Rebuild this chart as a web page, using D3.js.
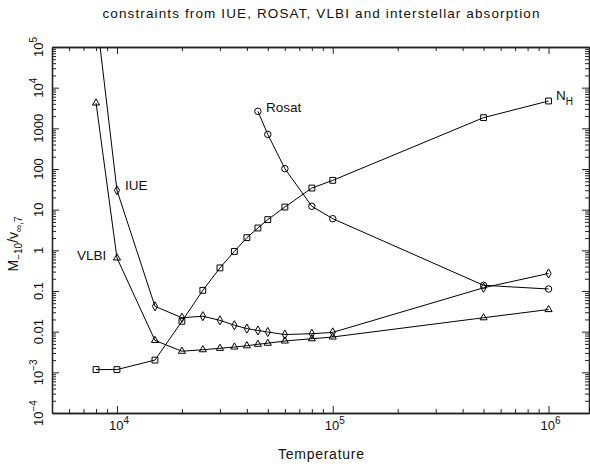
<!DOCTYPE html>
<html>
<head>
<meta charset="utf-8">
<script src="https://cdn.jsdelivr.net/npm/d3@7"></script>
<style>
  body { margin: 0; background: #fff; }
  svg { display: block; }
  text { font-family: "Liberation Sans", Arial, sans-serif; fill: #111; }
</style>
</head>
<body>
<div id="chart"></div>
<script>
// temperatures (K)
var temps = [8000, 10000, 15000, 20000, 25000, 30000, 35000, 40000, 45000, 50000, 60000, 80000, 100000, 500000, 1000000];
// VLBI (triangles)
var vlbi = [4200, 0.65, 0.0061, 0.0033, 0.0036, 0.0039, 0.0042, 0.0045, 0.0049, 0.0052, 0.0059, 0.0067, 0.0074, 0.022, 0.035];
// IUE (diamonds) - first point runs off the top
var iue = [7e5, 30, 0.042, 0.022, 0.024, 0.019, 0.0144, 0.0119, 0.0107, 0.0098, 0.0085, 0.0089, 0.0096, 0.12, 0.27];
// interstellar absorption N_H (squares)
var nh = [0.00117, 0.00117, 0.002, 0.018, 0.104, 0.37, 0.94, 2.05, 3.54, 5.7, 11.6, 34, 52.6, 1830, 4700];
// Rosat (circles), from 45000 K on
var rosatT = [45000, 50000, 60000, 80000, 100000, 500000, 1000000];
var rosat = [2620, 710, 102, 12.1, 6.0, 0.138, 0.112];

var yTickVals = [1e5, 1e4, 1000, 100, 10, 1, 0.1, 0.01, 1e-3, 1e-4];
var yTickLabels = [["10", "5"], ["10", "4"], ["1000"], ["100"], ["10"], ["1"], ["0.1"], ["0.01"], ["10", "\u22123"], ["10", "\u22124"]];
var xTickVals = [1e4, 1e5, 1e6];
var xTickLabels = [["10", "4"], ["10", "5"], ["10", "6"]];

var W = 590, H = 466;
var m = { left: 52, right: 1, top: 47, bottom: 53 };

var svg = d3.select('#chart').append('svg').attr('width', W).attr('height', H);

var x = d3.scaleLog().domain([5000, 1.54e6]).range([m.left, W - m.right]);
var y = d3.scaleLog().domain([1e-4, 1e5]).range([H - m.bottom, m.top]);

// minor tick positions 2..9 per decade
function minors(lo, hi) {
    var out = [];
    for (var e = Math.floor(Math.log10(lo)); e <= Math.ceil(Math.log10(hi)); e++) {
        for (var k = 2; k <= 9; k++) {
            var v = k * Math.pow(10, e);
            if (v > lo && v < hi) out.push(v);
        }
    }
    return out;
}
var xMinor = minors(5000, 1.54e6);
var yMinor = minors(1e-4, 1e5);

var x0 = m.left, x1 = W - m.right, y0 = H - m.bottom, y1 = m.top;

function drawAxis(axis, tr) {
    var g = svg.append('g').attr('transform', tr).call(axis);
    g.select('.domain').attr('stroke', '#222').attr('stroke-width', 1.3);
    g.selectAll('.tick line').attr('stroke', '#222');
    g.selectAll('.tick text').remove();
    return g;
}
// major + minor ticks on all four sides, pointing inward
drawAxis(d3.axisBottom(x).tickValues(xTickVals).tickSizeInner(-7).tickSizeOuter(0).tickFormat(''), 'translate(0,' + y0 + ')');
drawAxis(d3.axisBottom(x).tickValues(xMinor).tickSizeInner(-4).tickSizeOuter(0).tickFormat(''), 'translate(0,' + y0 + ')');
drawAxis(d3.axisTop(x).tickValues(xTickVals).tickSizeInner(-7).tickSizeOuter(0).tickFormat(''), 'translate(0,' + y1 + ')');
drawAxis(d3.axisTop(x).tickValues(xMinor).tickSizeInner(-4).tickSizeOuter(0).tickFormat(''), 'translate(0,' + y1 + ')');
drawAxis(d3.axisLeft(y).tickValues(yTickVals).tickSizeInner(-7).tickSizeOuter(0).tickFormat(''), 'translate(' + x0 + ',0)');
drawAxis(d3.axisLeft(y).tickValues(yMinor).tickSizeInner(-4).tickSizeOuter(0).tickFormat(''), 'translate(' + x0 + ',0)');
drawAxis(d3.axisRight(y).tickValues(yTickVals).tickSizeInner(-7).tickSizeOuter(0).tickFormat(''), 'translate(' + x1 + ',0)');
drawAxis(d3.axisRight(y).tickValues(yMinor).tickSizeInner(-4).tickSizeOuter(0).tickFormat(''), 'translate(' + x1 + ',0)');

// x tick labels
xTickVals.forEach(function(v, i) {
    var t = svg.append('text').attr('x', x(v) + 2).attr('y', 430).attr('text-anchor', 'middle').style('font-size', '13px');
    t.append('tspan').text(xTickLabels[i][0]);
    t.append('tspan').attr('dy', -6).style('font-size', '10px').text(xTickLabels[i][1]);
});
// y tick labels, rotated
yTickVals.forEach(function(v, i) {
    var t = svg.append('text')
        .attr('transform', 'translate(43,' + y(v) + ') rotate(-90)')
        .attr('text-anchor', 'middle').style('font-size', '13px');
    t.append('tspan').text(yTickLabels[i][0]);
    if (yTickLabels[i][1]) t.append('tspan').attr('dy', -6).style('font-size', '10px').text(yTickLabels[i][1]);
});

// titles
svg.append('text').attr('x', 321).attr('y', 18).attr('text-anchor', 'middle').style('font-size', '13.5px')
    .attr('textLength', 437).attr('lengthAdjust', 'spacing')
    .text('constraints from IUE, ROSAT, VLBI and interstellar absorption');
svg.append('text').attr('x', 321).attr('y', 459).attr('text-anchor', 'middle').style('font-size', '14px')
    .attr('textLength', 86).attr('lengthAdjust', 'spacing')
    .text('Temperature');
var yl = svg.append('text').attr('transform', 'translate(18,244) rotate(-90)').attr('text-anchor', 'middle').style('font-size', '14px');
yl.append('tspan').text('M');
yl.append('tspan').attr('dy', 4).style('font-size', '10px').text('\u221210');
yl.append('tspan').attr('dy', -4).text('/v');
yl.append('tspan').attr('dy', 4).style('font-size', '10px').text('\u221e,7');

// plot clip
svg.append('clipPath').attr('id', 'clip').append('rect')
    .attr('x', x0).attr('y', y1).attr('width', x1 - x0).attr('height', y0 - y1);

var line = d3.line().x(function(d) { return x(d[0]); }).y(function(d) { return y(d[1]); });

var series = [
    { name: 'VLBI', t: temps, v: vlbi, sym: d3.symbolTriangle, size: 22 },
    { name: 'IUE', t: temps, v: iue, sym: d3.symbolDiamond, size: 24 },
    { name: 'NH', t: temps, v: nh, sym: d3.symbolSquare, size: 34 },
    { name: 'Rosat', t: rosatT, v: rosat, sym: d3.symbolCircle, size: 33 }
];

var plot = svg.append('g').attr('clip-path', 'url(#clip)');
series.forEach(function(s) {
    var pts = s.t.map(function(t, i) { return [t, s.v[i]]; });
    plot.append('path').datum(pts).attr('d', line)
        .attr('fill', 'none').attr('stroke', '#000').attr('stroke-width', 1);
    plot.selectAll(null).data(pts).enter().append('path')
        .attr('transform', function(d) { return 'translate(' + x(d[0]) + ',' + y(d[1]) + ')'; })
        .attr('d', d3.symbol().type(s.sym).size(s.size))
        .attr('fill', 'none').attr('stroke', '#000').attr('stroke-width', 1);
});

// series labels
svg.append('text').attr('x', 266).attr('y', 112).style('font-size', '13.5px').text('Rosat');
svg.append('text').attr('x', 125).attr('y', 190).style('font-size', '13.5px').text('IUE');
svg.append('text').attr('x', 77).attr('y', 259.5).style('font-size', '13.5px').text('VLBI');
var nl = svg.append('text').attr('x', 556).attr('y', 100).style('font-size', '13.5px');
nl.append('tspan').text('N');
nl.append('tspan').attr('dy', 5).style('font-size', '10px').text('H');
</script>
</body>
</html>
